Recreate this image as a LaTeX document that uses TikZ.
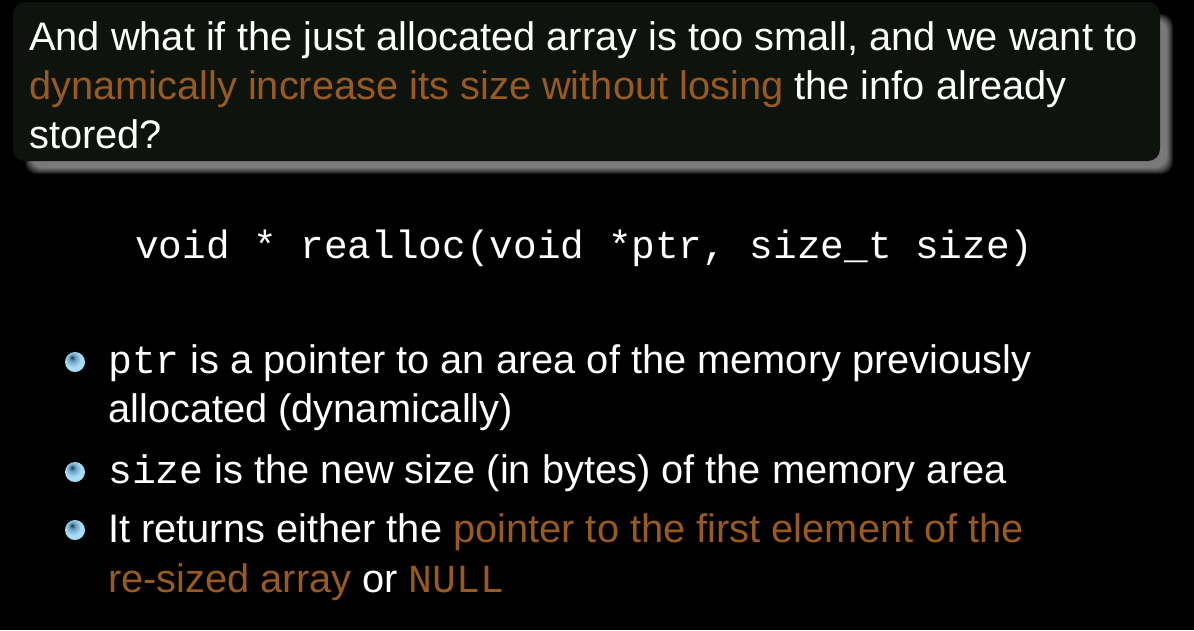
\documentclass[tikz,border=0pt]{standalone}
\usepackage{fontspec}
\setmainfont{Liberation Sans}
\setmonofont{Liberation Mono}
\definecolor{boxfill}{HTML}{0E130E}
\definecolor{hl}{HTML}{985A1E}
\definecolor{balllight}{HTML}{A8DCF2}
\definecolor{ballmid}{HTML}{6A9EC0}
\definecolor{balldark}{HTML}{1E3448}
\pgfdeclareradialshading{bulletball}{\pgfpoint{-8bp}{12bp}}{color(0bp)=(balldark); color(8bp)=(ballmid); color(20bp)=(balllight); color(42bp)=(balllight); color(50bp)=(ballmid)}
\tikzset{
  txt/.style={anchor=base west, inner sep=0pt, text=white, font=\fontsize{39.8}{49}\selectfont},
  ball/.style={circle, minimum size=20pt, inner sep=0pt, shading=bulletball},
}
\begin{document}
\begin{tikzpicture}[x=1pt,y=-1pt]
\fill[black] (0,0) rectangle (1194,630);
\useasboundingbox (0,0) rectangle (1194,630);
% shadow
\foreach \i in {0,1,...,6}{
  \fill[white, opacity=0.09, rounded corners=12pt] ({25+\i},{14+\i}) rectangle ({1173-\i},{174-\i});
}
% box
\fill[boxfill, rounded corners=12pt] (13,2) rectangle (1160,161);
% title
\node[txt] (t1) at (29,50) {And what if the just allocated array is too small, and we want to};
\node[txt] (t2) at (29,99) {\textcolor{hl}{dynamically increase its size without losing} the info already};
\node[txt] (t3) at (29,148) {stored?};
% code
\node[txt, font=\fontsize{39.4}{49}\selectfont\ttfamily] (code) at (135,258) {void * realloc(void *ptr, size\_t size)};
% bullets
\node[ball] (b1) at (75,362) {};
\node[txt] (l1a) at (108,373) {\texttt{ptr} is a pointer to an area of the memory previously};
\node[txt] (l1b) at (108,422) {allocated (dynamically)};
\node[ball] (b2) at (75,472) {};
\node[txt] (l2a) at (108,483) {\texttt{size} is the new size (in bytes) of the memory area};
\node[ball] (b3) at (75,530) {};
\node[txt] (l3a) at (108,542) {It returns either the \textcolor{hl}{pointer to the first element of the}};
\node[txt] (l3b) at (108,592) {\textcolor{hl}{re-sized array} or \textcolor{hl}{\texttt{NULL}}};
\end{tikzpicture}
\end{document}
